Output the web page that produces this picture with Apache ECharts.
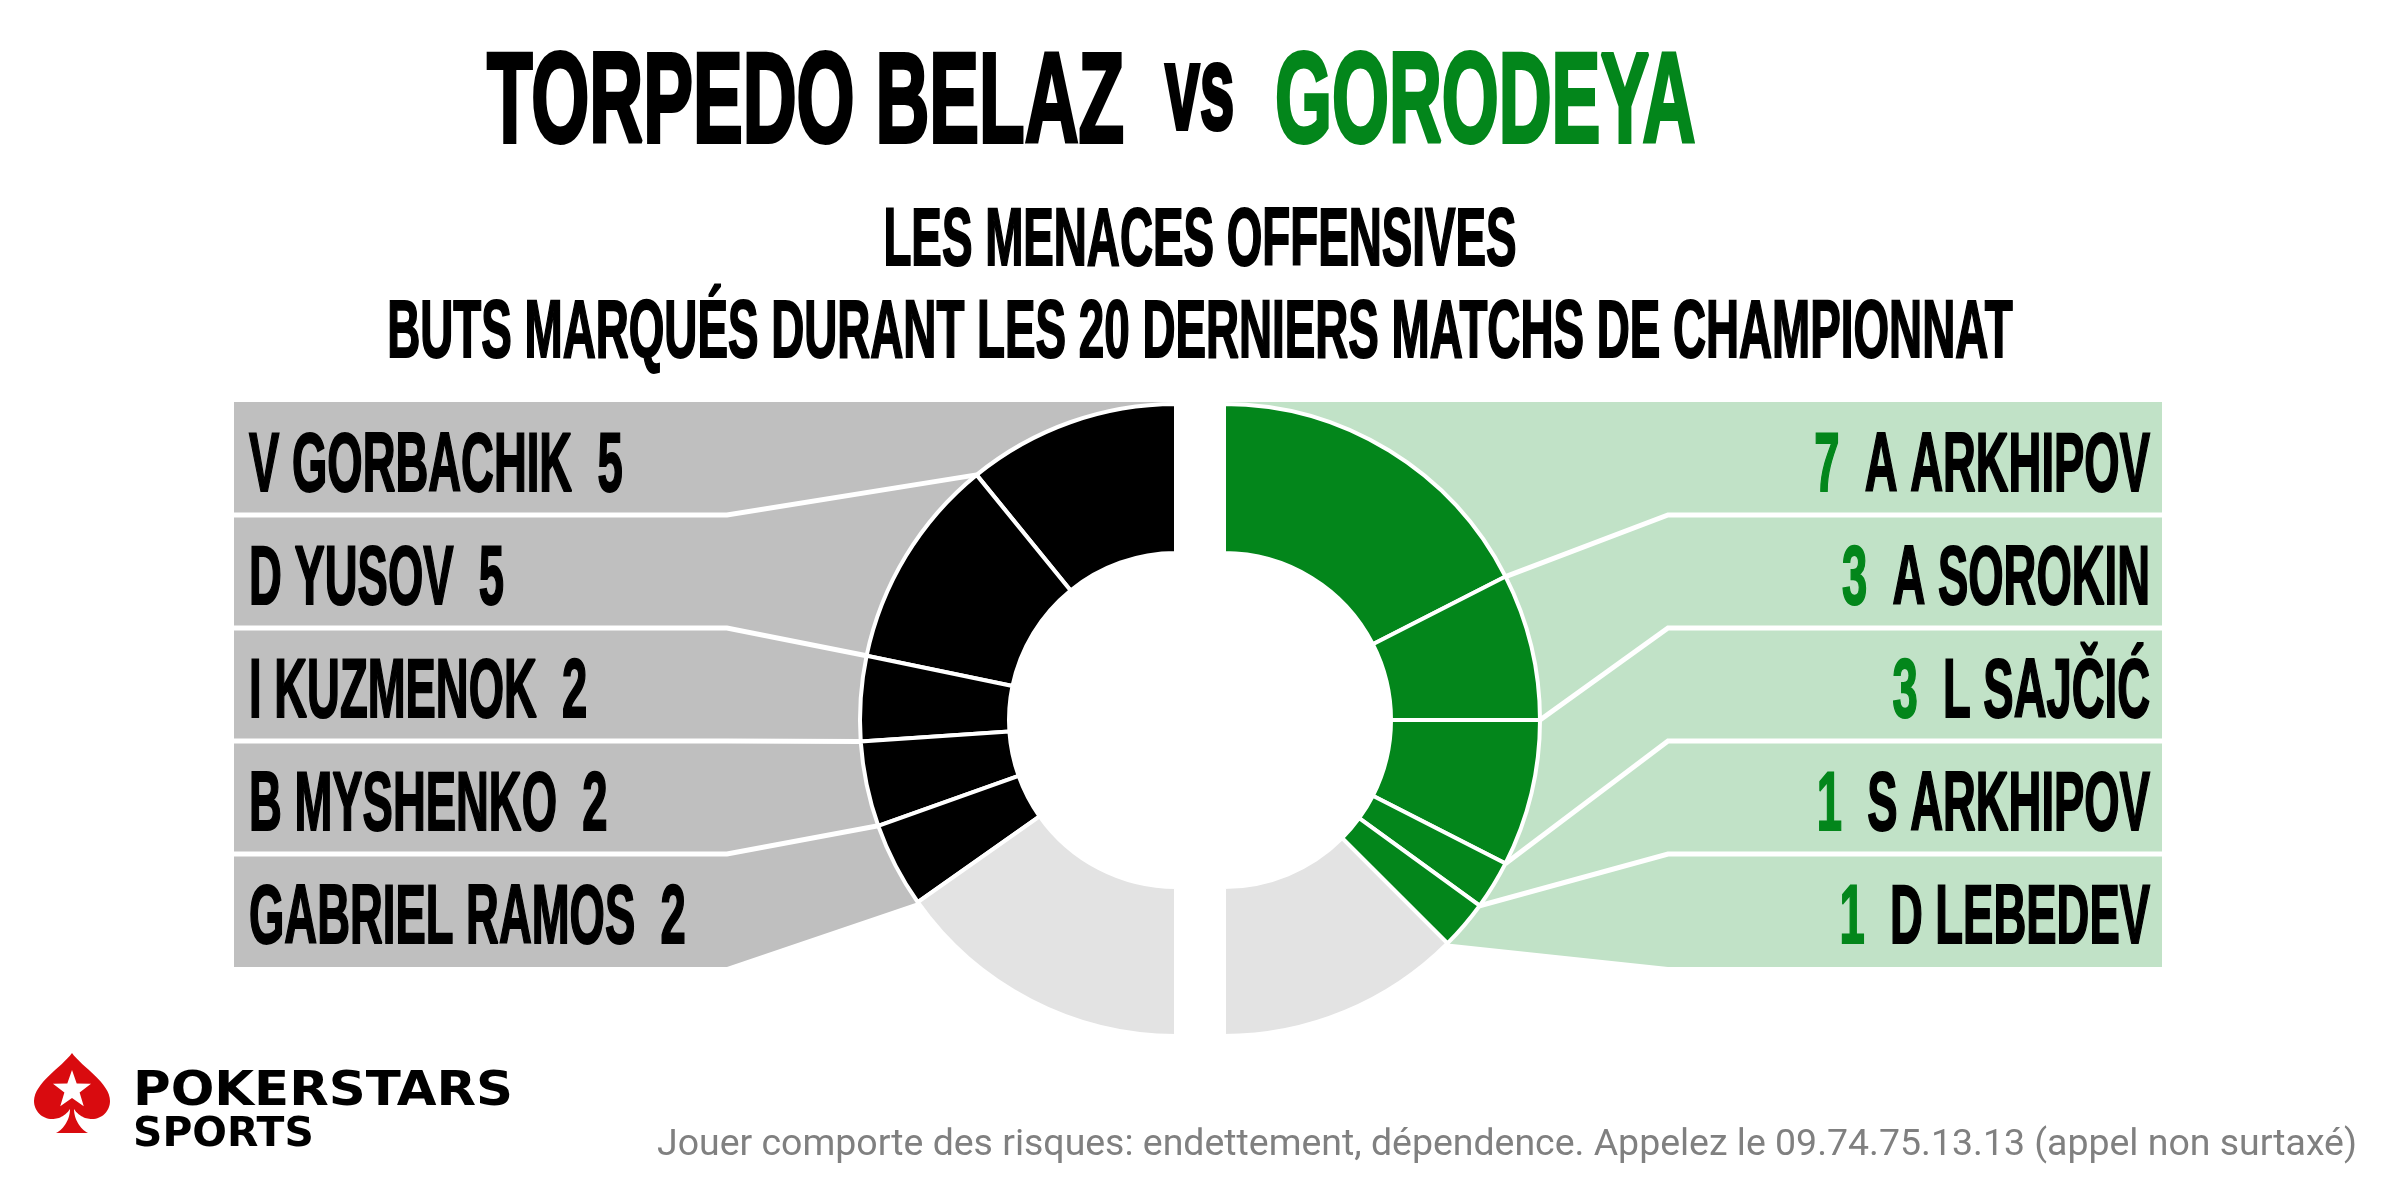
<!DOCTYPE html>
<html>
<head>
<meta charset="utf-8">
<title>Torpedo Belaz vs Gorodeya</title>
<script src="https://cdn.jsdelivr.net/npm/echarts@6/dist/echarts.min.js"></script>
<style>
  html, body { margin: 0; padding: 0; background: #fff; }
  #chart { width: 2400px; height: 1200px; }
</style>
</head>
<body>
<div id="chart"></div>
<script>
// data
const leftPlayers = ['V GORBACHIK', 'D YUSOV', 'I KUZMENOK', 'B MYSHENKO', 'GABRIEL RAMOS'];
const leftGoals = [5, 5, 2, 2, 2];
const leftTeamGoals = 23;

const rightPlayers = ['A ARKHIPOV', 'A SOROKIN', 'L SAJČIĆ', 'S ARKHIPOV', 'D LEBEDEV'];
const rightGoals = [7, 3, 3, 1, 1];
const rightTeamGoals = 20;

// colours
const GREEN = '#03861b';
const GRAY_BOX = '#bfbfbf';
const GREEN_BOX = '#c1e2c7';
const OTHER = '#e3e3e3';
const HEAD_FONT = '"Liberation Sans", Arial, sans-serif';

// layout
const CY = 720, LEFT_CX = 1176, RIGHT_CX = 1224;
const R_IN = 167, R_OUT = 316;
const TOP = 402, ROW_H = 113;
const LEFT_X = 234, LEFT_KNEE = 727;
const RIGHT_X = 2162, RIGHT_KNEE = 1668;

const sum = arr => arr.reduce((a, b) => a + b, 0);

function cumAngles(values, total) {
    let c = 0;
    return values.map(v => { c += v; return c / total * Math.PI; });
}

function pt(side, a, r) {
    if (side < 0) return [LEFT_CX - r * Math.sin(a), CY - r * Math.cos(a)];
    return [RIGHT_CX + r * Math.sin(a), CY - r * Math.cos(a)];
}

function pieData(goals, names, total, color) {
    const d = goals.map((v, i) => ({ name: names[i], value: v, itemStyle: { color: color } }));
    d.push({ name: 'autres', value: total - sum(goals), itemStyle: { color: OTHER } });
    d.push({ name: '', value: total, itemStyle: { color: 'rgba(0,0,0,0)', borderWidth: 0 } });
    return d;
}

function sideGraphics(side, goals, names, total) {
    const angles = cumAngles(goals, total);
    const aEnd = angles[angles.length - 1];
    const edgeX = side < 0 ? LEFT_X : RIGHT_X;
    const knee = side < 0 ? LEFT_KNEE : RIGHT_KNEE;
    const cx = side < 0 ? LEFT_CX : RIGHT_CX;
    const bottom = TOP + goals.length * ROW_H;
    const els = [];

    // background behind the rows
    const poly = [[edgeX, TOP], [cx, TOP]];
    const steps = 60;
    for (let i = 0; i <= steps; i++) poly.push(pt(side, aEnd * i / steps, R_OUT));
    poly.push([knee, bottom], [edgeX, bottom]);
    els.push({
        type: 'polygon', z: 0, silent: true,
        shape: { points: poly },
        style: { fill: side < 0 ? GRAY_BOX : GREEN_BOX }
    });

    // leader lines between rows
    for (let k = 0; k < goals.length - 1; k++) {
        const y = TOP + (k + 1) * ROW_H;
        els.push({
            type: 'polyline', z: 1, silent: true,
            shape: { points: [pt(side, angles[k], R_OUT), [knee, y], [edgeX + (side < 0 ? -4 : 4), y]] },
            style: { stroke: '#fff', lineWidth: 5, fill: null }
        });
    }

    // row labels
    goals.forEach((g, i) => {
        const y = TOP + (i + 0.5) * ROW_H + 9;
        if (side < 0) {
            els.push({
                type: 'text', z: 3, x: 249, y: y, scaleX: 0.541, silent: true,
                style: {
                    text: names[i] + '  ' + g, fill: '#000', stroke: '#000', lineWidth: 2,
                    align: 'left', verticalAlign: 'middle', font: 'bold 84px ' + HEAD_FONT
                }
            });
        } else {
            els.push({
                type: 'text', z: 3, x: 2150, y: y, scaleX: 0.541, silent: true,
                style: {
                    text: '{n|' + g + '}  {t|' + names[i] + '}', align: 'right', verticalAlign: 'middle',
                    font: 'bold 84px ' + HEAD_FONT, fill: '#000',
                    rich: {
                        n: { fill: GREEN, stroke: GREEN, lineWidth: 2, fontSize: 84, fontWeight: 'bold', fontFamily: HEAD_FONT },
                        t: { fill: '#000', stroke: '#000', lineWidth: 2, fontSize: 84, fontWeight: 'bold', fontFamily: HEAD_FONT }
                    }
                }
            });
        }
    });
    return els;
}

function starPoints(cx, cy, r) {
    const pts = [];
    for (let i = 0; i < 10; i++) {
        const rr = i % 2 === 0 ? r : r * 0.4;
        const a = -Math.PI / 2 + i * Math.PI / 5;
        pts.push([cx + rr * Math.cos(a), cy + rr * Math.sin(a)]);
    }
    return pts;
}

// spade outline as cubic segments, sampled into a polygon
function spadePoints(ox, oy) {
    const segs = [
        [[38, 0], [28, 14], [0, 30], [0, 48]],
        [[0, 48], [0, 58], [8, 66], [18, 66]],
        [[18, 66], [26, 66], [32, 62], [36, 56]],
        [[36, 56], [36, 66], [30, 76], [22, 80]],
        [[22, 80], [30, 80], [46, 80], [54, 80]],
        [[54, 80], [46, 76], [40, 66], [40, 56]],
        [[40, 56], [44, 62], [50, 66], [58, 66]],
        [[58, 66], [68, 66], [76, 58], [76, 48]],
        [[76, 48], [76, 30], [48, 14], [38, 0]]
    ];
    const pts = [];
    segs.forEach(s => {
        for (let i = 0; i < 16; i++) {
            const t = i / 16, u = 1 - t;
            const x = u * u * u * s[0][0] + 3 * u * u * t * s[1][0] + 3 * u * t * t * s[2][0] + t * t * t * s[3][0];
            const y = u * u * u * s[0][1] + 3 * u * u * t * s[1][1] + 3 * u * t * t * s[2][1] + t * t * t * s[3][1];
            pts.push([ox + x, oy + y]);
        }
    });
    return pts;
}

const headTexts = [
    { type: 'text', z: 3, x: 487, y: 107, scaleX: 0.583, style: { text: 'TORPEDO BELAZ', fill: '#000', stroke: '#000', lineWidth: 4, align: 'left', verticalAlign: 'middle', font: 'bold 128px ' + HEAD_FONT } },
    { type: 'text', z: 3, x: 1165, y: 96, scaleX: 0.52, style: { text: 'vs', fill: '#000', stroke: '#000', lineWidth: 4, align: 'left', verticalAlign: 'middle', font: 'bold 120px ' + HEAD_FONT } },
    { type: 'text', z: 3, x: 1275, y: 107, scaleX: 0.572, style: { text: 'GORODEYA', fill: GREEN, stroke: GREEN, lineWidth: 4, align: 'left', verticalAlign: 'middle', font: 'bold 128px ' + HEAD_FONT } },
    { type: 'text', z: 3, x: 1200, y: 243, scaleX: 0.565, style: { text: 'LES MENACES OFFENSIVES', fill: '#000', stroke: '#000', lineWidth: 2, align: 'center', verticalAlign: 'middle', font: 'bold 81px ' + HEAD_FONT } },
    { type: 'text', z: 3, x: 1200, y: 335, scaleX: 0.565, style: { text: 'BUTS MARQUÉS DURANT LES 20 DERNIERS MATCHS DE CHAMPIONNAT', fill: '#000', stroke: '#000', lineWidth: 2, align: 'center', verticalAlign: 'middle', font: 'bold 81px ' + HEAD_FONT } },
    { type: 'text', z: 3, x: 2357, y: 1146, scaleX: 1.04, style: { text: 'Jouer comporte des risques: endettement, dépendence. Appelez le 09.74.75.13.13 (appel non surtaxé)', fill: '#808080', align: 'right', verticalAlign: 'middle', font: '36px Roboto, sans-serif' } }
];

const logo = [
    { type: 'polygon', z: 3, silent: true, shape: { points: spadePoints(34, 1053) }, style: { fill: '#d90b0f' } },
    { type: 'polygon', z: 4, silent: true, shape: { points: starPoints(72, 1090, 20) }, style: { fill: '#fff' } },
    { type: 'text', z: 3, x: 133, y: 1093, scaleX: 1.07, style: { text: 'POKERSTARS', fill: '#000', align: 'left', verticalAlign: 'middle', font: 'bold 48px "DejaVu Sans", sans-serif' } },
    { type: 'text', z: 3, x: 133, y: 1136, scaleX: 1.02, style: { text: 'SPORTS', fill: '#000', align: 'left', verticalAlign: 'middle', font: 'bold 40px "DejaVu Sans", sans-serif' } }
];

const chart = echarts.init(document.getElementById('chart'), null, { renderer: 'canvas' });

const pieBase = {
    type: 'pie',
    radius: [R_IN, R_OUT],
    startAngle: 90,
    avoidLabelOverlap: false,
    silent: true,
    label: { show: false },
    labelLine: { show: false },
    emphasis: { disabled: true },
    itemStyle: { borderColor: '#fff', borderWidth: 4 }
};

chart.setOption({
    animation: false,
    backgroundColor: '#fff',
    series: [
        Object.assign({}, pieBase, {
            name: 'TORPEDO BELAZ', center: [LEFT_CX, CY], clockwise: false,
            data: pieData(leftGoals, leftPlayers, leftTeamGoals, '#000')
        }),
        Object.assign({}, pieBase, {
            name: 'GORODEYA', center: [RIGHT_CX, CY], clockwise: true,
            data: pieData(rightGoals, rightPlayers, rightTeamGoals, GREEN)
        })
    ],
    graphic: [].concat(
        sideGraphics(-1, leftGoals, leftPlayers, leftTeamGoals),
        sideGraphics(1, rightGoals, rightPlayers, rightTeamGoals),
        headTexts,
        logo
    )
});
</script>
</body>
</html>
